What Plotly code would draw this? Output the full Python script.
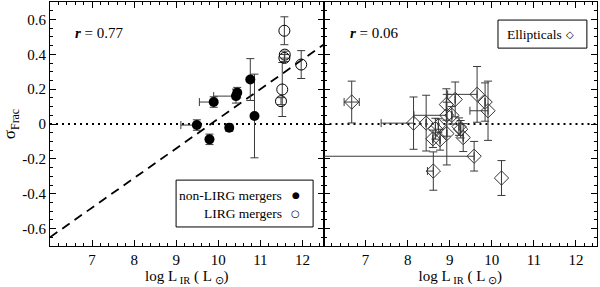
import plotly.graph_objects as go

# ---------------- data ----------------
# non-LIRG mergers (filled circles)
nl_x = [9.49, 9.79, 9.89, 10.26, 10.42, 10.45, 10.76, 10.86]
nl_y = [-0.006, -0.088, 0.126, -0.021, 0.16, 0.18, 0.255, 0.046]
nl_yerr = [0.03, 0.03, 0.03, 0.02, 0.04, 0.03, 0.12, 0.24]
nl_xerr_minus = [0.38, 0.0, 0.34, 0.0, 0.53, 0.0, 0.0, 0.0]

# LIRG mergers (open circles)
lg_x = [11.57, 11.58, 11.57, 11.52, 11.49, 11.97]
lg_y = [0.535, 0.398, 0.379, 0.198, 0.131, 0.341]
lg_yerr = [0.08, 0.02, 0.02, 0.155, 0.02, 0.08]

# fit line (dashed)
fit_x = [6.0, 12.5]
fit_y = [-0.65, 0.455]

# Ellipticals (open diamonds)
el_x = [6.67, 8.14, 8.44, 8.66, 8.60, 8.77, 8.61, 8.92, 8.93, 9.05, 8.93,
        9.13, 9.22, 9.26, 9.32, 9.65, 9.84, 9.91, 9.58, 10.23, 8.73]
el_y = [0.126, 0.005, 0.005, -0.027, -0.085, -0.09, -0.27, 0.112, 0.05, 0.05,
        -0.055, 0.141, -0.015, -0.03, -0.078, 0.17, 0.126, 0.076, -0.185, -0.31, -0.01]
el_yerr = [0.12, 0.15, 0.16, 0.06, 0.05, 0.06, 0.11, 0.09, 0.12, 0.05,
           0.18, 0.10, 0.05, 0.05, 0.08, 0.16, 0.11, 0.17, 0.085, 0.10, 0.04]
el_xerr_minus = [0.18, 0.77, 0.0, 0.0, 0.0, 0.0, 0.14, 0.0, 0.78, 0.0,
                 0.0, 0.0, 0.0, 0.0, 0.0, 0.70, 0.0, 0.43, 4.0, 0.0, 0.0]
el_xerr_plus = [0.18, 0.0, 0.0, 0.0, 0.0, 0.0, 0.0, 0.0, 0.0, 0.0,
                0.0, 0.0, 0.0, 0.0, 0.0, 0.0, 0.0, 0.0, 0.0, 0.0, 0.0]

x_ticks = [7, 8, 9, 10, 11, 12]
y_ticks = [-0.6, -0.4, -0.2, 0, 0.2, 0.4, 0.6]
y_ticklabels = ["-0.6", "-0.4", "-0.2", "0", "0.2", "0.4", "0.6"]
zero_x = [6.0, 12.5]
zero_y = [0, 0]

r_left = "0.77"
r_right = "0.06"

# ---------------- figure ----------------
FONT = "Liberation Serif"
EC = "#3a3a3a"

fig = go.Figure()

# left panel
fig.add_trace(go.Scatter(x=zero_x, y=zero_y, mode="lines", xaxis="x", yaxis="y",
                         line=dict(color="black", width=2, dash="2px,4px"), showlegend=False))
fig.add_trace(go.Scatter(x=fit_x, y=fit_y, mode="lines", xaxis="x", yaxis="y",
                         line=dict(color="black", width=1.8, dash="9px,6px"), showlegend=False))
fig.add_trace(go.Scatter(
    x=nl_x, y=nl_y, mode="markers", xaxis="x", yaxis="y",
    marker=dict(symbol="circle", size=10, color="black"),
    error_y=dict(type="data", array=nl_yerr, color=EC, thickness=1, width=4),
    error_x=dict(type="data", symmetric=False, arrayminus=nl_xerr_minus,
                 array=[0] * len(nl_x), color=EC, thickness=1, width=4),
    showlegend=False))
fig.add_trace(go.Scatter(
    x=lg_x, y=lg_y, mode="markers", xaxis="x", yaxis="y",
    marker=dict(symbol="circle-open", size=11, color="black", line=dict(width=1)),
    error_y=dict(type="data", array=lg_yerr, color=EC, thickness=1, width=4),
    showlegend=False))

# right panel
fig.add_trace(go.Scatter(x=zero_x, y=zero_y, mode="lines", xaxis="x2", yaxis="y2",
                         line=dict(color="black", width=2, dash="2px,4px"), showlegend=False))
fig.add_trace(go.Scatter(
    x=el_x, y=el_y, mode="markers", xaxis="x2", yaxis="y2",
    marker=dict(symbol="diamond-open", size=11, color="#333333", line=dict(width=1)),
    error_y=dict(type="data", array=el_yerr, color=EC, thickness=1, width=4),
    error_x=dict(type="data", symmetric=False, arrayminus=el_xerr_minus,
                 array=el_xerr_plus, color=EC, thickness=1, width=4),
    showlegend=False))

xaxis_common = dict(range=[6.0, 12.5], tickmode="array", tickvals=x_ticks,
                    ticks="inside", ticklen=6, tickcolor="black", mirror="allticks",
                    showline=True, linecolor="black", linewidth=1, showgrid=False,
                    zeroline=False, automargin=False,
                    minor=dict(tickmode="linear", tick0=6, dtick=0.2, ticks="inside",
                               ticklen=3, tickcolor="black", showgrid=False),
                    tickfont=dict(family=FONT, size=15, color="black"),
                    title=dict(text="log L<sub> IR</sub> ( L<sub> ⊙</sub>)",
                               font=dict(family=FONT, size=15, color="black"), standoff=0))
yaxis_common = dict(range=[-0.7, 0.7], tickmode="array", tickvals=y_ticks,
                    ticktext=y_ticklabels,
                    ticks="inside", ticklen=6, tickcolor="black", mirror="allticks",
                    showline=True, linecolor="black", linewidth=1, showgrid=False,
                    zeroline=False, automargin=False,
                    minor=dict(tickmode="linear", tick0=0, dtick=0.05, ticks="inside",
                               ticklen=3, tickcolor="black", showgrid=False),
                    tickfont=dict(family=FONT, size=15, color="black"))

fig.update_layout(
    template="none",
    width=600, height=287,
    margin=dict(l=50, r=3, t=2, b=41),
    paper_bgcolor="white", plot_bgcolor="white",
    xaxis=dict(domain=[0, 0.5], anchor="y", **xaxis_common),
    yaxis=dict(domain=[0, 1], anchor="x",
               title=dict(text="σ<sub>Frac</sub>", font=dict(family=FONT, size=17, color="black"),
                          standoff=4),
               **yaxis_common),
    xaxis2=dict(domain=[0.5, 1], anchor="y2", **xaxis_common),
    yaxis2=dict(domain=[0, 1], anchor="x2", showticklabels=False, **yaxis_common),
    showlegend=False,
)

ann_font = dict(family=FONT, size=15, color="black")
leg_font = dict(family=FONT, size=13.5, color="black")
annotations = [
    dict(text="<b><i>r</i></b> = " + r_left, xref="x domain", yref="y domain",
         x=0.084, y=0.873, xanchor="left", yanchor="middle", showarrow=False, font=ann_font),
    dict(text="<b><i>r</i></b> = " + r_right, xref="x2 domain", yref="y2 domain",
         x=0.09, y=0.873, xanchor="left", yanchor="middle", showarrow=False, font=ann_font),
    dict(text="non-LIRG mergers", xref="x domain", yref="y domain",
         x=0.855, y=0.209, xanchor="right", yanchor="middle", showarrow=False, font=leg_font),
    dict(text="LIRG mergers", xref="x domain", yref="y domain",
         x=0.855, y=0.135, xanchor="right", yanchor="middle", showarrow=False, font=leg_font),
    dict(text="●", xref="x domain", yref="y domain",
         x=0.898, y=0.209, xanchor="center", yanchor="middle", showarrow=False,
         font=dict(family="DejaVu Sans", size=9, color="black")),
    dict(text="○", xref="x domain", yref="y domain",
         x=0.898, y=0.135, xanchor="center", yanchor="middle", showarrow=False,
         font=dict(family="DejaVu Sans", size=10, color="black")),
    dict(text="Ellipticals", xref="x2 domain", yref="y2 domain",
         x=0.665, y=0.865, xanchor="left", yanchor="middle", showarrow=False, font=leg_font),
    dict(text="◇", xref="x2 domain", yref="y2 domain",
         x=0.9, y=0.865, xanchor="center", yanchor="middle", showarrow=False,
         font=dict(family="DejaVu Sans", size=10, color="black")),
]
fig.update_layout(annotations=annotations)

shapes = [
    dict(type="rect", xref="x domain", yref="y domain", x0=0.461, x1=0.962, y0=0.078, y1=0.270,
         line=dict(color="black", width=1), fillcolor="rgba(0,0,0,0)"),
    dict(type="rect", xref="x2 domain", yref="y2 domain", x0=0.638, x1=0.963, y0=0.811, y1=0.926,
         line=dict(color="black", width=1), fillcolor="rgba(0,0,0,0)"),
]
fig.update_layout(shapes=shapes)

fig.write_html("out.html", config={"displayModeBar": False},
               post_script="document.body.style.margin='0';document.body.style.padding='0';")
